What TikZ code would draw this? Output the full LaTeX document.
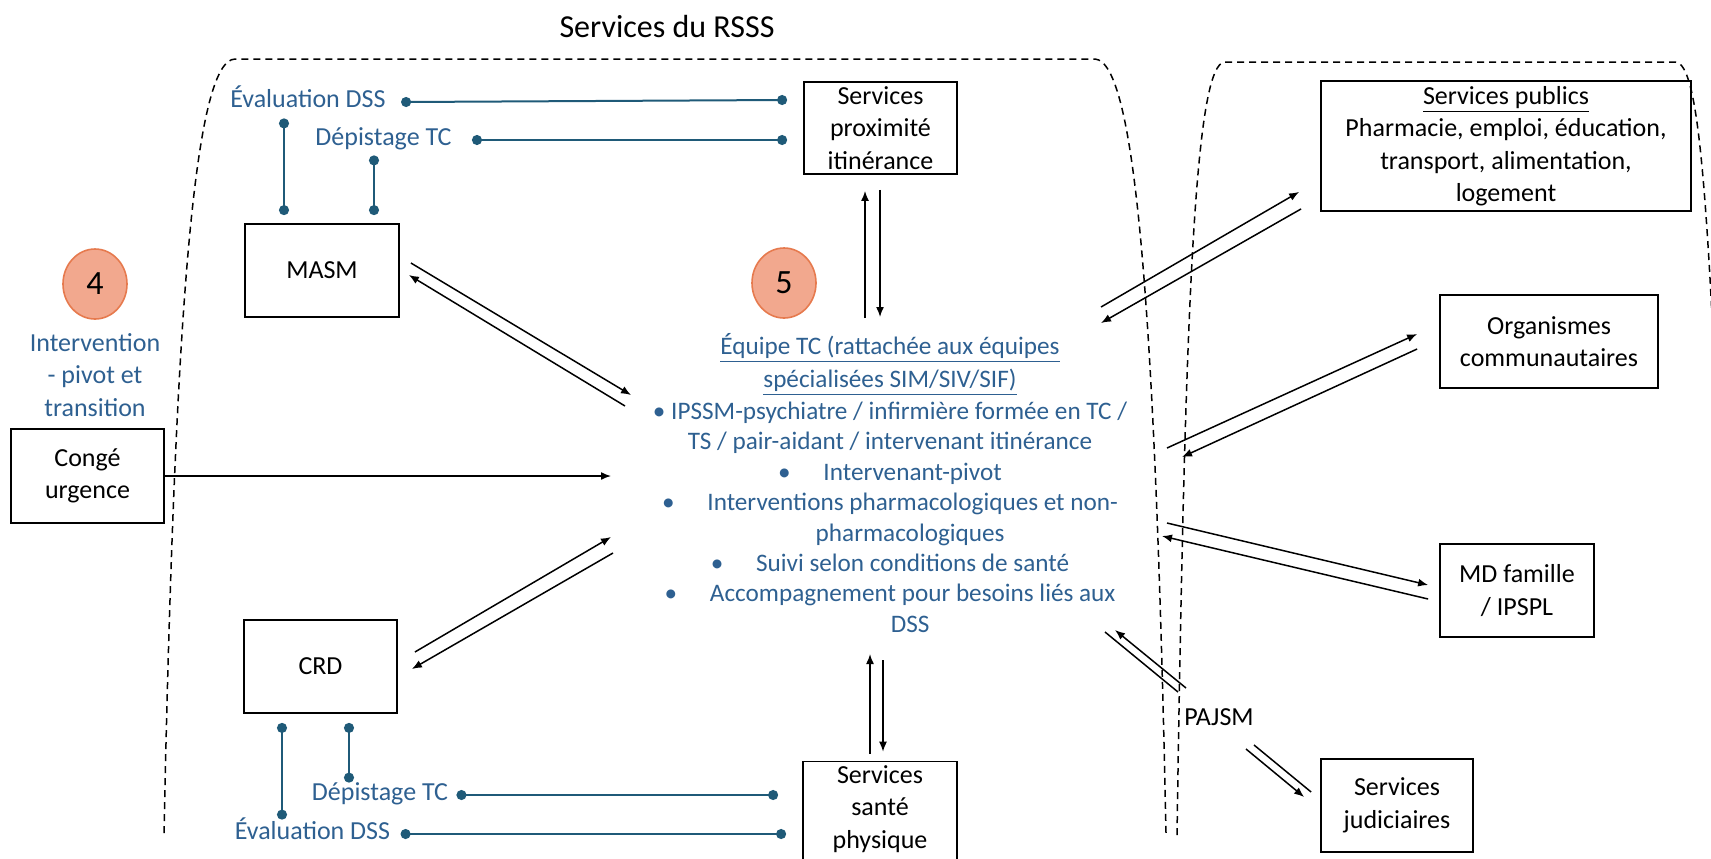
\documentclass[tikz,border=0pt]{standalone}
\usepackage{fontspec}
\setmainfont{Carlito}
\usepackage{tikz}
\usepackage{xcolor}
\usetikzlibrary{
    arrows.meta,
    shapes.geometric,
    positioning
}
\definecolor{txtblue}{RGB}{46,96,145}
\definecolor{linkblue}{RGB}{31,90,120}
\definecolor{numfill}{RGB}{242,168,142}
\definecolor{numedge}{RGB}{230,122,78}

\begin{document}
\begin{tikzpicture}[x=0.5pt, y=-0.5pt,
    font=\fontsize{13}{16.25}\selectfont,
    >={Latex[length=5pt,width=4pt]},
    arr/.style={->, line width=0.75pt},
    box/.style={draw, line width=0.9pt, align=center, inner sep=2pt},
    lbl/.style={text=txtblue, inner sep=0pt, text height=0.7em, text depth=0.2em},
    link/.style={draw=linkblue, line width=1pt, {Circle[length=5pt]}-{Circle[length=5pt]}, shorten <=-2.5pt, shorten >=-2.5pt},
    num/.style={ellipse, draw=numedge, fill=numfill, line width=0.8pt, inner sep=0pt, minimum width=32pt, minimum height=35pt, font=\fontsize{17}{20}\selectfont},
    zone/.style={dash pattern=on 3.5pt off 2.5pt, line width=0.75pt}]
                        \useasboundingbox (0,0) rectangle (1711,858);
                        \clip (0,0) rectangle (1711,858);

                        \draw[zone] (164,833) .. controls (175,300) and (195,60) .. (235,59) -- (1095,59) .. controls (1135,62) and (1155,300) .. (1166,833);
                        \draw[zone] (1177,835) .. controls (1185,300) and (1195,62) .. (1225,62) -- (1675,62) .. controls (1695,62) and (1705,150) .. (1716,400);

                        \node[font=\fontsize{16}{19}\selectfont] (title) at (667,27) {Services du RSSS};

                        \node[num] (c4) at (95,284) {4};
                        \node[num] (c5) at (784,283) {5};
                        \node[text=txtblue, align=center, inner sep=0pt] (interv) at (95,375) {Intervention\\- pivot et\\transition};

                        \node[box, minimum width=76.5pt, minimum height=47pt] (conge) at (87.5,476) {Congé\\urgence};
                        \node[box, minimum width=77pt, minimum height=46.5pt] (masm) at (322,270.5) {MASM};
                        \node[box, minimum width=76.5pt, minimum height=46.5pt] (crd) at (320.5,666.5) {CRD};
                        \node[box, minimum width=76.5pt, minimum height=46pt] (prox) at (880.5,128) {Services\\proximité\\itinérance};
                        \node[box, minimum width=77pt, minimum height=46.5pt, text depth=14pt] (sante) at (880,821) {Services\\santé\\physique};
                        \node[box, minimum width=185pt, minimum height=65pt] (publics) at (1506,146) {\underline{Services publics}\\Pharmacie, emploi, éducation,\\transport, alimentation,\\logement};
                        \node[box, minimum width=109pt, minimum height=46.5pt] (orga) at (1549,341.5) {Organismes\\communautaires};
                        \node[box, minimum width=77pt, minimum height=46.5pt] (md) at (1517,590.5) {MD famille\\/ IPSPL};
                        \node[box, minimum width=76pt, minimum height=46.5pt] (jud) at (1397,805.5) {Services\\judiciaires};
                        \node[inner sep=0pt] (pajsm) at (1219,717) {PAJSM};

                        \node[text=txtblue, align=center, inner sep=0pt, font=\fontsize{12.6}{15.2}\selectfont] (equipe) at (890,483) {\underline{Équipe TC (rattachée aux équipes}\\[1pt]
                            \underline{spécialisées SIM/SIV/SIF)}\\[1pt]
                            • IPSSM-psychiatre / infirmière formée en TC /\\
                            TS / pair-aidant / intervenant itinérance\\
                            •\hspace{1.3em}Intervenant-pivot\\
                            •\hspace{1.3em}Interventions pharmacologiques et non-\\
                            \hspace*{1.6em}pharmacologiques\\
                            •\hspace{1.3em}Suivi selon conditions de santé\\
                            •\hspace{1.3em}Accompagnement pour besoins liés aux\\
                            \hspace*{1.6em}DSS};

                        \node[lbl] (eval1) at (308,102) {Évaluation DSS};
                        \node[lbl] (dep1) at (383.5,140) {Dépistage TC};
                        \node[lbl] (dep2) at (380,795) {Dépistage TC};
                        \node[lbl] (eval2) at (312.5,834) {Évaluation DSS};

                        \draw[link] ([shift={(20,0)}]eval1.east) -- ([shift={(-21,-28)}]prox.west);
                        \draw[link] ([shift={(25,0)}]dep1.east) -- ([shift={(-21,12)}]prox.west);
                        \draw[link] ([shift={(-24,12)}]eval1.south) -- ([shift={(-38,-13)}]masm.north);
                        \draw[link] ([shift={(-9.5,11)}]dep1.south) -- ([shift={(52,-13)}]masm.north);
                        \draw[link] ([shift={(13,0)}]dep2.east) -- ([shift={(-29,-26)}]sante.west);
                        \draw[link] ([shift={(15,0)}]eval2.east) -- ([shift={(-21,13)}]sante.west);
                        \draw[link] ([shift={(-38.5,14)}]crd.south) -- ([shift={(-30.5,-10)}]eval2.north);
                        \draw[link] ([shift={(28.5,14)}]crd.south) -- ([shift={(-31,-8)}]dep2.north);

                        \draw[arr] ([shift={(11,-7.5)}]masm.east) -- ([shift={(-259,-88)}]equipe.center);
                        \draw[arr] ([shift={(-265,-77)}]equipe.center) -- ([shift={(9,4.5)}]masm.east);
                        \draw[arr] (conge.east) -- ([shift={(-279,-7)}]equipe.center);
                        \draw[arr] ([shift={(17,-14.5)}]crd.east) -- ([shift={(-279,54)}]equipe.center);
                        \draw[arr] ([shift={(-277,70)}]equipe.center) -- ([shift={(14,2.5)}]crd.east);
                        \draw[arr] ([shift={(-25,-165)}]equipe.center) -- ([shift={(-15.5,16)}]prox.south);
                        \draw[arr] ([shift={(-0.5,15)}]prox.south) -- ([shift={(-10,-166)}]equipe.center);
                        \draw[arr] ([shift={(-10,-7)}]sante.north) -- ([shift={(-20,171)}]equipe.center);
                        \draw[arr] ([shift={(-7,177)}]equipe.center) -- ([shift={(3,-9)}]sante.north);
                        \draw[arr] ([shift={(211,-176)}]equipe.center) -- ([shift={(-21,-20)}]publics.south west);
                        \draw[arr] ([shift={(-19,-3)}]publics.south west) -- ([shift={(211,-160)}]equipe.center);
                        \draw[arr] ([shift={(277,-35)}]equipe.center) -- ([shift={(-22,-7.5)}]orga.west);
                        \draw[arr] ([shift={(-22,7.5)}]orga.west) -- ([shift={(292,-26)}]equipe.center);
                        \draw[arr] ([shift={(277,40)}]equipe.center) -- ([shift={(-11,-5.5)}]md.west);
                        \draw[arr] ([shift={(-11,8.5)}]md.west) -- ([shift={(272,53)}]equipe.center);
                        \draw[arr] ([shift={(-33,-29)}]pajsm.center) -- ([shift={(225,147)}]equipe.center);
                        \draw[line width=0.75pt] ([shift={(215,149)}]equipe.center) -- ([shift={(-41,-25)}]pajsm.center);
                        \draw[arr] ([shift={(27,32)}]pajsm.center) -- ([shift={(-16,-8.5)}]jud.west);
                        \draw[line width=0.75pt] ([shift={(35,28)}]pajsm.center) -- ([shift={(-9,-13.5)}]jud.west);
                    \end{tikzpicture}
\end{document}
